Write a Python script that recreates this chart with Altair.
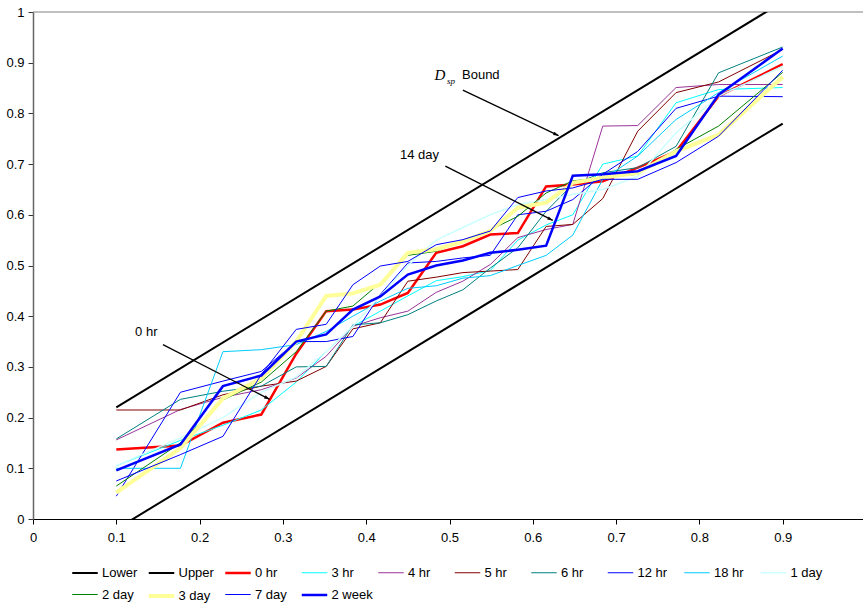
import math
import altair as alt
import pandas as pd

# ---------------- data ----------------
x_pts = [0.1, 0.177, 0.228, 0.274, 0.316, 0.352, 0.384, 0.417, 0.45, 0.484,
         0.516, 0.549, 0.582, 0.616, 0.648, 0.684, 0.726, 0.772, 0.823, 0.9]

bound_x = [0.1, 0.9]
lower_y = [-0.02, 0.78]
upper_y = [0.22, 1.02]

hr0 = [0.137, 0.145, 0.19, 0.206, 0.326, 0.41, 0.413, 0.423, 0.446, 0.525, 0.538, 0.561, 0.564, 0.656, 0.66, 0.666, 0.693, 0.725, 0.834, 0.897]
hr3 = [0.105, 0.155, 0.185, 0.215, 0.27, 0.33, 0.38, 0.41, 0.44, 0.47, 0.478, 0.49, 0.55, 0.58, 0.60, 0.70, 0.716, 0.821, 0.847, 0.851]
hr4 = [0.156, 0.216, 0.24, 0.255, 0.278, 0.321, 0.38, 0.397, 0.41, 0.447, 0.469, 0.502, 0.555, 0.571, 0.581, 0.775, 0.776, 0.851, 0.857, 0.857]
hr5 = [0.215, 0.215, 0.245, 0.262, 0.272, 0.301, 0.375, 0.387, 0.469, 0.477, 0.486, 0.489, 0.492, 0.577, 0.581, 0.632, 0.765, 0.841, 0.862, 0.926]
hr6 = [0.158, 0.236, 0.252, 0.262, 0.30, 0.301, 0.383, 0.387, 0.403, 0.43, 0.452, 0.495, 0.535, 0.607, 0.66, 0.683, 0.693, 0.735, 0.88, 0.931]
hr12 = [0.045, 0.25, 0.272, 0.291, 0.35, 0.35, 0.36, 0.443, 0.505, 0.508, 0.515, 0.52, 0.60, 0.607, 0.63, 0.68, 0.725, 0.81, 0.834, 0.833]
hr18 = [0.10, 0.10, 0.33, 0.334, 0.344, 0.37, 0.40, 0.43, 0.455, 0.46, 0.475, 0.48, 0.50, 0.52, 0.56, 0.67, 0.716, 0.788, 0.841, 0.913]
day1 = [0.105, 0.16, 0.20, 0.25, 0.28, 0.33, 0.38, 0.44, 0.50, 0.55, 0.575, 0.60, 0.62, 0.63, 0.64, 0.65, 0.676, 0.762, 0.834, 0.893]
day2 = [0.065, 0.15, 0.235, 0.27, 0.33, 0.41, 0.42, 0.466, 0.52, 0.528, 0.55, 0.57, 0.597, 0.643, 0.667, 0.673, 0.68, 0.729, 0.775, 0.881]
day3 = [0.052, 0.14, 0.238, 0.277, 0.35, 0.44, 0.445, 0.462, 0.525, 0.532, 0.547, 0.568, 0.614, 0.624, 0.663, 0.673, 0.683, 0.725, 0.758, 0.872]
day7 = [0.075, 0.127, 0.163, 0.285, 0.374, 0.384, 0.462, 0.499, 0.508, 0.541, 0.551, 0.568, 0.634, 0.647, 0.653, 0.67, 0.67, 0.703, 0.755, 0.885]
week2 = [0.096, 0.147, 0.262, 0.283, 0.35, 0.364, 0.413, 0.439, 0.482, 0.50, 0.51, 0.525, 0.531, 0.539, 0.677, 0.68, 0.686, 0.716, 0.837, 0.928]

series_names = ["Lower", "Upper", "0 hr", "3 hr", "4 hr", "5 hr", "6 hr", "12 hr",
                "18 hr", "1 day", "2 day", "3 day", "7 day", "2 week"]
series_colors = ["#000000", "#000000", "#FF0000", "#00FFFF", "#993399", "#800000",
                 "#008080", "#0000FF", "#00CCFF", "#CCFFFF", "#008000", "#FFFF99",
                 "#0000FF", "#0000FF"]
series_widths = [2, 2, 2.5, 1, 1, 1, 1, 1, 1, 1.5, 1, 4, 1, 2.5]

x_ticks = [round(i * 0.1, 1) for i in range(10)]
y_ticks = [round(i * 0.1, 1) for i in range(11)]

# annotations (data units)
ann_text = ["0 hr", "14 day"]
ann_text_x = [0.136, 0.464]
ann_text_y = [0.368, 0.717]
arrow_x = [0.156, 0.495, 0.516]
arrow_y = [0.344, 0.696, 0.846]
arrow_x2 = [0.284, 0.624, 0.631]
arrow_y2 = [0.236, 0.589, 0.756]

# ---------------- build tables ----------------
values = {"0 hr": hr0, "3 hr": hr3, "4 hr": hr4, "5 hr": hr5, "6 hr": hr6,
          "12 hr": hr12, "18 hr": hr18, "1 day": day1, "2 day": day2,
          "3 day": day3, "7 day": day7, "2 week": week2}
rows = []
for i, xv in enumerate(bound_x):
    rows.append({"series": "Lower", "x": xv, "y": lower_y[i], "i": i})
    rows.append({"series": "Upper", "x": xv, "y": upper_y[i], "i": i})
for name, ys in values.items():
    for i, (xv, yv) in enumerate(zip(x_pts, ys)):
        rows.append({"series": name, "x": xv, "y": yv, "i": i})
df = pd.DataFrame(rows)

W, H = 830, 507
XMAX = 830 / 833
PX_X = W / XMAX
PX_Y = H / 1.0

arrows = pd.DataFrame({"x": arrow_x, "y": arrow_y, "x2": arrow_x2, "y2": arrow_y2})
arrows["angle"] = [
    (math.degrees(math.atan2((b - a) * PX_X, (d - c) * PX_Y))) % 360
    for a, b, c, d in zip(arrow_x, arrow_x2, arrow_y, arrow_y2)
]
ann = pd.DataFrame({"t": ann_text, "x": ann_text_x, "y": ann_text_y})

FONT = "Liberation Sans"

xscale = alt.Scale(domain=[0, XMAX], nice=False, zero=False)
yscale = alt.Scale(domain=[0, 1], nice=False, zero=False)
xaxis = alt.Axis(values=x_ticks, format=".1~f", title=None, grid=False,
                 tickSize=5, labelPadding=7, labelFont=FONT, labelFontSize=13,
                 domainColor="#000000", tickColor="#000000", labelColor="#000000",
                 labelFlush=False)
yaxis = alt.Axis(values=y_ticks, format=".1~f", title=None, grid=False,
                 tickSize=5, labelPadding=4, labelFont=FONT, labelFontSize=13,
                 domainColor="#666666", tickColor="#333333", labelColor="#000000",
                 domainWidth=1.5)

legend = alt.Legend(title=None, orient="none", legendX=37, legendY=546,
                    direction="horizontal", columns=10, symbolType="stroke",
                    symbolSize=650, gridAlign="all", columnPadding=-3.5, rowPadding=-12,
                    labelFont=FONT, labelFontSize=13, labelOffset=2,
                    labelColor="#000000")
color = alt.Color("series:N",
                  scale=alt.Scale(domain=series_names, range=series_colors),
                  legend=legend)
swidth = alt.StrokeWidth("series:N",
                         scale=alt.Scale(type="ordinal", domain=series_names,
                                         range=series_widths),
                         legend=legend)

layers = []
border = alt.Chart(pd.DataFrame({"y": [1.0]})).mark_rule(color="#808080", strokeWidth=1).encode(
    y=alt.Y("y:Q", scale=yscale, axis=yaxis))
layers.append(border)

for k, name in enumerate(series_names):
    layer = alt.Chart(df).transform_filter(alt.datum.series == name).mark_line(
        clip=True, strokeJoin="miter").encode(
        x=alt.X("x:Q", scale=xscale, axis=xaxis),
        y=alt.Y("y:Q", scale=yscale, axis=yaxis),
        order="i:Q",
        color=color,
        strokeWidth=swidth,
    )
    layers.append(layer)

arrow_lines = alt.Chart(arrows).mark_rule(color="#000000", strokeWidth=1.3).encode(
    x=alt.X("x:Q", scale=xscale), y=alt.Y("y:Q", scale=yscale), x2="x2:Q", y2="y2:Q")
arrow_heads = alt.Chart(arrows).mark_point(
    shape="M0,0 L-0.45,1.4 L0.45,1.4 Z", filled=True, color="#000000", opacity=1,
    size=60).encode(
    x=alt.X("x2:Q", scale=xscale), y=alt.Y("y2:Q", scale=yscale),
    angle=alt.Angle("angle:Q", scale=None))
ann_text_layer = alt.Chart(ann).mark_text(font=FONT, fontSize=13, color="#000000",
                                          align="center", baseline="middle").encode(
    x=alt.X("x:Q", scale=xscale), y=alt.Y("y:Q", scale=yscale), text="t:N")

dsp_df = pd.DataFrame({"t": ["D"], "x": [0.482], "y": [0.875]})
sp_df = pd.DataFrame({"t": ["sp"], "x": [0.497], "y": [0.863]})
bound_df = pd.DataFrame({"t": ["Bound"], "x": [0.515], "y": [0.876]})
d_layer = alt.Chart(dsp_df).mark_text(font="Liberation Serif", fontStyle="italic",
                                      fontSize=15, align="left", baseline="middle",
                                      color="#000000").encode(
    x=alt.X("x:Q", scale=xscale), y=alt.Y("y:Q", scale=yscale), text="t:N")
sp_layer = alt.Chart(sp_df).mark_text(font="Liberation Serif", fontStyle="italic",
                                      fontSize=9, align="left", baseline="middle",
                                      color="#000000").encode(
    x=alt.X("x:Q", scale=xscale), y=alt.Y("y:Q", scale=yscale), text="t:N")
b_layer = alt.Chart(bound_df).mark_text(font=FONT, fontSize=13, align="left",
                                        baseline="middle", color="#000000").encode(
    x=alt.X("x:Q", scale=xscale), y=alt.Y("y:Q", scale=yscale), text="t:N")

layers += [arrow_lines, arrow_heads, ann_text_layer, d_layer, sp_layer, b_layer]

chart = alt.layer(*layers).properties(
    width=W, height=H,
    autosize=alt.AutoSizeParams(type="none"),
    padding={"left": 33, "top": 12, "right": 0, "bottom": 84},
    background="#FFFFFF",
).configure_view(stroke=None).resolve_scale(color="shared")

chart.save("out.html", embed_options={"renderer": "svg", "actions": False})
